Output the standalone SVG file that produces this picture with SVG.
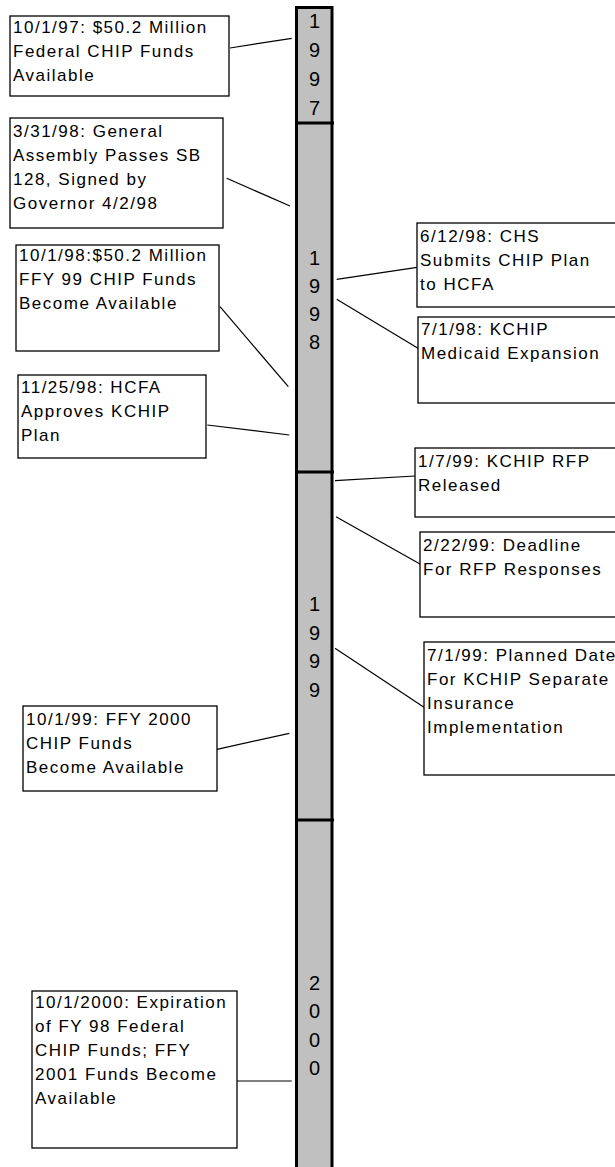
<svg xmlns="http://www.w3.org/2000/svg" width="615" height="1167" viewBox="0 0 615 1167">
<style>
.box{fill:#fff;stroke:#000;stroke-width:1.3}
.t{font-family:"Liberation Sans",Arial,sans-serif;font-size:17px;letter-spacing:1.5px;fill:#000}
.yr{font-family:"Liberation Sans",Arial,sans-serif;font-size:20px;fill:#000;text-anchor:middle}
.c{stroke:#000;stroke-width:1.2;fill:none}
.bar{fill:#C0C0C0;stroke:#000;stroke-width:3}
.div{stroke:#000;stroke-width:3}
</style>
<rect width="615" height="1167" fill="#fff"/>
<g id="timeline">
<rect class="bar" x="296.5" y="7.5" width="35.5" height="1175"/>
<line class="div" x1="296" y1="123" x2="334" y2="123"/>
<line class="div" x1="296" y1="472" x2="334" y2="472"/>
<line class="div" x1="296" y1="820" x2="334" y2="820"/>
<g id="y1997" class="yr"><text x="314.5" y="28">1</text><text x="314.5" y="57">9</text><text x="314.5" y="86">9</text><text x="314.5" y="115">7</text></g>
<g id="y1998" class="yr"><text x="314.5" y="265">1</text><text x="314.5" y="293">9</text><text x="314.5" y="321">9</text><text x="314.5" y="349">8</text></g>
<g id="y1999" class="yr"><text x="314.5" y="611">1</text><text x="314.5" y="640">9</text><text x="314.5" y="668">9</text><text x="314.5" y="697">9</text></g>
<g id="y2000" class="yr"><text x="314.5" y="990">2</text><text x="314.5" y="1018">0</text><text x="314.5" y="1047">0</text><text x="314.5" y="1075">0</text></g>
</g>
<g id="connectors">
<line class="c" x1="230" y1="48" x2="291.7" y2="38.3"/>
<line class="c" x1="226.7" y1="178.3" x2="290" y2="206"/>
<line class="c" x1="220" y1="306.7" x2="288.3" y2="386.7"/>
<line class="c" x1="207.3" y1="425" x2="289.3" y2="435"/>
<line class="c" x1="336.7" y1="279.3" x2="417" y2="267.3"/>
<line class="c" x1="336.7" y1="299.3" x2="418" y2="348.3"/>
<line class="c" x1="335" y1="480.7" x2="415" y2="476"/>
<line class="c" x1="336" y1="516.7" x2="420" y2="564"/>
<line class="c" x1="335" y1="648.3" x2="424" y2="707.3"/>
<line class="c" x1="217" y1="749.3" x2="289.3" y2="733.3"/>
<line class="c" x1="237" y1="1081" x2="291.7" y2="1081"/>
</g>
<g id="n1"><rect class="box" x="10" y="16" width="219" height="80"/><text class="t" x="13" y="33">10/1/97: $50.2 Million</text><text class="t" x="13" y="57">Federal CHIP Funds</text><text class="t" x="13" y="81">Available</text></g>
<g id="n2"><rect class="box" x="10" y="118" width="213" height="110"/><text class="t" x="13" y="137">3/31/98: General</text><text class="t" x="13" y="161">Assembly Passes SB</text><text class="t" x="13" y="185">128, Signed by</text><text class="t" x="13" y="209">Governor 4/2/98</text></g>
<g id="n3"><rect class="box" x="16" y="245" width="203" height="106"/><text class="t" x="19" y="261">10/1/98:$50.2 Million</text><text class="t" x="19" y="285">FFY 99 CHIP Funds</text><text class="t" x="19" y="309">Become Available</text></g>
<g id="n4"><rect class="box" x="18" y="375" width="188" height="83"/><text class="t" x="21" y="393">11/25/98: HCFA</text><text class="t" x="21" y="417">Approves KCHIP</text><text class="t" x="21" y="441">Plan</text></g>
<g id="n5"><rect class="box" x="417" y="223" width="220" height="84"/><text class="t" x="420" y="242">6/12/98: CHS</text><text class="t" x="420" y="266">Submits CHIP Plan</text><text class="t" x="420" y="290">to HCFA</text></g>
<g id="n6"><rect class="box" x="418" y="317" width="220" height="86"/><text class="t" x="421" y="335">7/1/98: KCHIP</text><text class="t" x="421" y="359">Medicaid Expansion</text></g>
<g id="n7"><rect class="box" x="415" y="448" width="220" height="69"/><text class="t" x="418" y="467">1/7/99: KCHIP RFP</text><text class="t" x="418" y="491">Released</text></g>
<g id="n8"><rect class="box" x="420" y="532" width="220" height="85"/><text class="t" x="423" y="551">2/22/99: Deadline</text><text class="t" x="423" y="575">For RFP Responses</text></g>
<g id="n9"><rect class="box" x="424" y="642" width="220" height="133"/><text class="t" x="427" y="661">7/1/99: Planned Date</text><text class="t" x="427" y="685">For KCHIP Separate</text><text class="t" x="427" y="709">Insurance</text><text class="t" x="427" y="733">Implementation</text></g>
<g id="n10"><rect class="box" x="23" y="706" width="194" height="85"/><text class="t" x="26" y="725">10/1/99: FFY 2000</text><text class="t" x="26" y="749">CHIP Funds</text><text class="t" x="26" y="773">Become Available</text></g>
<g id="n11"><rect class="box" x="32" y="991" width="205" height="157"/><text class="t" x="35" y="1008">10/1/2000: Expiration</text><text class="t" x="35" y="1032">of FY 98 Federal</text><text class="t" x="35" y="1056">CHIP Funds; FFY</text><text class="t" x="35" y="1080">2001 Funds Become</text><text class="t" x="35" y="1104">Available</text></g>
</svg>
